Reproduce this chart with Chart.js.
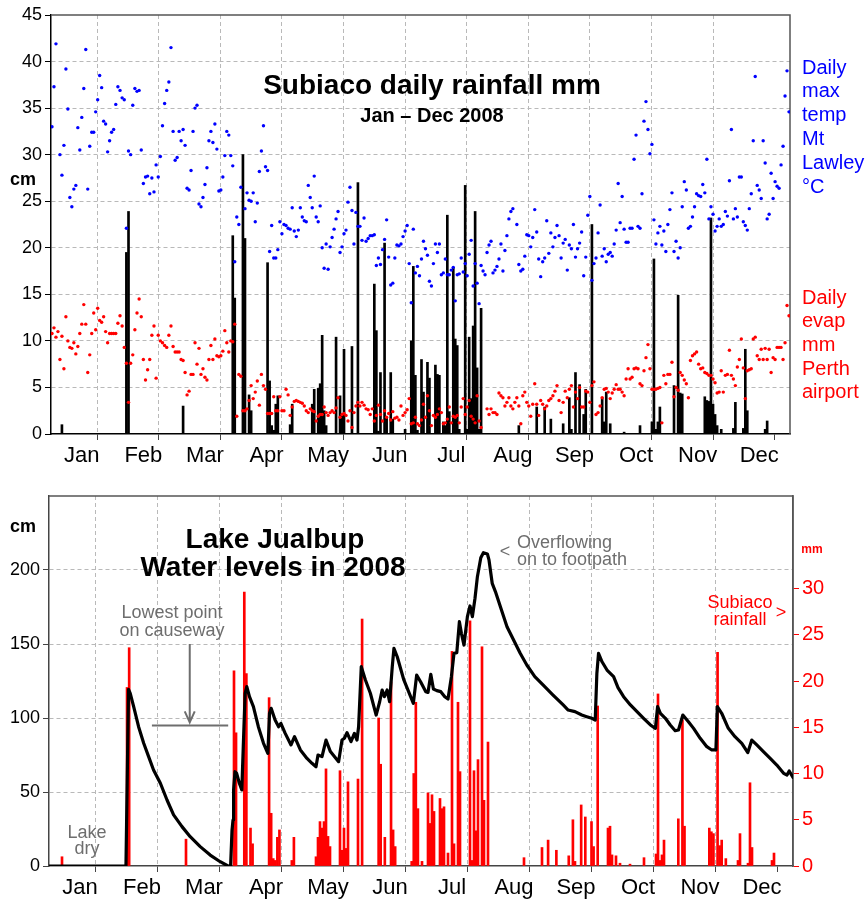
<!DOCTYPE html>
<html>
<head>
<meta charset="utf-8">
<script src="https://cdn.jsdelivr.net/npm/chart.js@4.4.1/dist/chart.umd.min.js"></script>
<style>
  html, body { margin: 0; padding: 0; background: #fff; }
  .box { position: relative; width: 866px; }
</style>
</head>
<body>
<div class="box" style="height:470px"><canvas id="rainChart"></canvas></div>
<div class="box" style="height:432px"><canvas id="lakeChart"></canvas></div>
<script>
// ---- data ----
const MONTHS = ["Jan", "Feb", "Mar", "Apr", "May", "Jun", "Jul", "Aug", "Sep", "Oct", "Nov", "Dec"];
const MONTH_DAYS = [31, 29, 31, 30, 31, 30, 31, 31, 30, 31, 30, 31];

// daily max temp Mt Lawley (°C), one list per month
const maxTemp = [
  [33.0,37.3,41.9,null,30.0,27.8,31.0,39.2,34.9,25.4,24.4,26.3,26.7,32.9,30.5,34.0,37.1,41.3,26.3,30.9,32.4,32.4,34.6,35.9,38.5,37.2,33.6,33.3,30.3,31.5,32.4],
  [32.7,35.4,37.3,36.9,36.1,35.9,22.1,30.4,30.0,35.3,37.1,36.8,36.9,30.5,26.9,27.6,27.7,25.8,27.5,26.0,28.9,27.6,29.8,33.1,35.5,36.9,37.8,41.5,32.5],
  [29.4,29.7,32.5,31.5,32.7,31.0,26.4,26.2,28.3,32.5,35.0,35.3,24.7,24.4,25.4,26.8,28.6,31.5,32.5,31.3,33.3,30.6,26.1,26.2,27.6,29.9,32.5,32.1,29.9,28.8,18.5],
  [23.3,22.5,26.5,null,24.2,25.9,25.1,25.0,25.9,22.8,24.8,28.2,30.4,33.1,28.7,28.3,19.6,22.4,18.9,18.9,19.8,22.8,21.5,22.5,22.4,22.1,22.0,24.3,21.8,21.2],
  [21.9,24.3,23.3,22.9,22.8,26.7,25.4,24.3,27.7,23.3,22.8,24.5,20.0,17.8,20.4,17.7,20.1,21.1,22.0,23.1,23.9,19.5,20.1,21.5,21.9,24.9,26.5,24.0,20.4,23.8,22.3],
  [22.3,20.8,23.2,20.7,21.0,21.3,21.3,21.4,18.1,18.9,18.2,19.8,20.9,23.0,19.0,16.0,16.2,18.9,20.3,20.2,20.4,21.2,21.8,22.4,18.3,14.1,22.0,17.3,18.0,17.0],
  [18.8,20.7,19.9,19.2,16.4,15.9,18.3,20.4,19.5,20.4,17.1,17.3,18.8,17.1,17.1,17.6,17.9,14.3,17.1,17.2,18.9,17.4,18.3,17.0,19.3,20.8,15.9,18.3,16.2,14.0,18.1],
  [17.5,17.1,19.5,20.3,20.7,17.3,17.6,18.0,18.8,20.4,17.5,19.7,21.3,23.1,23.9,24.2,null,22.5,18.2,17.5,17.7,19.1,21.4,21.3,20.1,21.1,24.1,21.7,18.8,16.9,18.5],
  [18.9,22.9,19.4,21.6,20.1,21.1,22.4,21.3,18.9,20.5,20.9,17.6,20.3,19.9,22.5,19.0,19.9,20.5,21.7,17.0,19.0,23.5,25.5,16.5,18.3,18.9,21.6,24.6,19.1,19.9],
  [18.5,19.3,19.5,19.1,20.4,21.9,26.9,22.7,25.5,22.0,20.6,20.6,22.1,22.1,29.5,32.1,22.3,22.1,25.8,33.6,35.7,32.7,30.1,31.1,23.0,20.4,21.6,22.3,20.3,21.8,19.6],
  [22.5,24.1,25.9,19.6,20.7,18.9,20.0,24.4,27.1,26.2,22.1,22.3,23.3,24.4,25.8,25.6,25.5,26.8,25.9,29.5,23.1,24.4,23.6,21.8,22.3,23.1,22.3,22.5,23.9,23.4],
  [27.2,32.7,23.1,24.2,23.3,27.6,27.6,22.8,22.4,21.9,24.2,25.8,31.5,38.4,26.7,26.2,25.3,31.5,29.1,23.1,23.6,28.0,25.3,27.1,26.6,26.4,28.9,30.9,36.3,39.0,34.6]
];

// daily evaporation Perth airport (mm), one list per month
const evap = [
  [10.8,11.4,10.4,11.0,8.0,10.5,7.0,12.6,10.0,9.3,9.2,9.8,8.6,9.4,10.8,11.8,13.9,11.8,6.6,8.5,10.8,13.0,11.2,13.5,12.2,12.0,12.6,11.0,9.8,10.8,10.8],
  [10.8,10.8,11.9,12.7,11.6,9.3,7.6,3.4,7.6,8.5,11.2,13.0,14.5,12.6,8.0,5.8,6.9,8.0,10.6,11.6,6.0,10.6,10.0,9.8,9.5,9.3,10.6,11.6,9.4],
  [8.8,8.8,8.8,8.0,7.9,6.6,4.2,4.6,6.4,6.4,9.8,7.5,9.2,6.4,7.0,6.1,5.8,8.0,9.5,8.0,10.2,8.4,8.3,8.4,8.9,11.1,9.8,8.8,10.0,9.9,11.8],
  [1.9,6.4,6.2,2.5,2.5,2.7,3.6,5.2,3.8,4.5,5.7,3.1,6.4,5.2,4.8,2.2,2.2,2.2,4.0,2.5,2.5,4.0,2.5,2.5,4.8,4.2,2.0,2.9,3.5,3.6],
  [3.5,3.4,3.3,3.0,2.5,2.3,2.7,2.5,2.4,1.4,1.9,2.1,2.1,2.9,2.3,2.0,2.3,2.5,2.3,2.8,3.9,1.8,2.1,2.2,2.0,1.4,2.5,0.7,2.3,3.0,3.4],
  [3.0,3.4,3.1,2.7,2.6,2.1,2.7,1.4,2.0,3.1,2.1,1.4,2.5,1.8,2.2,1.5,2.4,1.7,1.8,1.5,3.0,2.0,2.3,2.6,3.8,1.1,1.2,1.8,1.1,0.9],
  [1.5,3.2,1.8,4.1,2.5,0.9,2.0,1.8,2.1,2.7,2.3,1.1,1.2,1.6,2.9,1.2,1.9,1.8,2.0,1.2,2.9,3.8,2.1,2.9,3.6,1.9,1.6,1.2,4.1,1.4,0.7],
  [null,null,2.7,2.1,2.7,2.3,2.3,2.1,4.4,4.1,3.9,3.0,3.4,3.9,3.0,2.7,3.4,3.9,3.0,1.1,4.1,4.5,3.4,3.0,1.9,3.2,5.4,3.2,2.0,3.6,3.2],
  [2.7,3.0,3.6,3.8,4.1,4.6,5.2,3.6,2.3,3.4,4.6,3.9,4.8,5.2,2.9,4.5,3.8,5.0,2.9,2.9,4.6,4.5,3.4,5.2,5.6,2.1,2.3,3.0,3.9,4.8],
  [4.9,4.5,3.8,4.4,4.8,5.3,4.8,4.8,4.5,4.1,5.9,7.0,5.9,6.1,7.0,7.1,7.0,5.4,5.2,6.8,8.2,9.6,7.0,4.8,4.8,4.8,4.9,5.0,1.2,6.3,5.4],
  [6.4,6.4,7.7,4.0,5.0,4.7,6.6,6.3,5.8,5.4,3.9,7.9,8.4,8.6,8.8,7.5,7.0,7.1,6.6,6.5,6.3,6.3,5.9,5.5,4.4,4.5,6.8,4.5,6.3,6.4],
  [9.0,6.3,5.9,5.2,7.2,8.0,10.2,7.1,3.8,6.8,6.9,7.0,10.2,10.4,8.4,8.0,9.1,8.0,9.2,8.0,9.1,6.6,8.2,8.0,9.3,9.3,9.3,8.0,9.8,13.8,12.7]
];

// Subiaco rainfall as drawn in the top chart: [month, day, mm]
const rainTop = [
  [1,6,1.0],[2,7,19.5],[2,8,23.9],[3,5,3.0],[3,30,21.3],[3,31,14.6],
  [4,4,30.0],[4,5,21.0],[4,7,4.2],[4,8,2.5],[4,16,18.4],[4,17,5.7],[4,18,0.9],[4,19,0.4],[4,20,3.2],[4,21,4.1],[4,27,1.0],[4,28,3.2],
  [5,8,3.2],[5,9,4.8],[5,11,4.9],[5,12,5.4],[5,13,10.6],[5,14,2.5],[5,15,0.9],[5,20,10.4],[5,22,4.1],[5,23,1.9],[5,24,9.1],[5,28,9.4],[5,31,27.0],
  [6,8,16.1],[6,9,11.1],[6,10,0.3],[6,11,6.6],[6,13,20.5],[6,14,1.7],[6,16,6.6],[6,17,1.6],[6,23,0.5],[6,26,10.0],[6,27,18.0],[6,28,6.3],[6,29,0.4],
  [7,1,8.0],[7,2,4.5],[7,4,7.7],[7,5,6.0],[7,8,7.4],[7,9,6.4],[7,10,6.3],[7,12,1.3],[7,13,0.9],[7,14,23.5],[7,15,2.4],[7,17,17.9],[7,18,10.2],[7,19,9.5],[7,20,0.5],
  [7,23,26.7],[7,24,0.5],[7,25,10.4],[7,26,3.8],[7,27,11.6],[7,28,23.9],[7,29,7.1],[7,30,0.5],[7,31,13.5],
  [8,19,0.9],[8,28,2.9],
  [9,1,2.9],[9,4,1.6],[9,10,1.1],[9,13,3.9],[9,14,0.5],[9,16,6.6],[9,18,5.3],[9,20,2.1],[9,21,4.8],[9,24,22.5],[9,29,3.9],[9,30,1.3],
  [10,1,4.5],[10,3,1.1],[10,10,0.2],[10,18,0.9],[10,24,1.3],[10,25,18.8],[10,26,0.5],[10,27,1.3],[10,28,2.9],
  [11,4,5.2],[11,6,14.9],[11,7,4.4],[11,8,4.3],[11,19,4.0],[11,20,3.6],[11,21,3.5],[11,22,23.2],[11,23,3.2],[11,24,2.1],[11,25,0.9],[11,27,0.5],
  [12,3,0.6],[12,4,3.4],[12,8,0.6],[12,9,9.1],[12,10,2.5],[12,19,0.5],[12,20,1.4]
];

// Subiaco rainfall as drawn in the lake chart: [month, day, mm]
const rainLake = [
  [1,7,1.0],[2,8,19.3],[2,9,23.6],[3,7,2.9],[3,31,21.1],
  [4,1,14.4],[4,5,29.6],[4,6,20.8],[4,8,4.1],[4,9,2.4],[4,17,18.2],[4,18,5.7],[4,19,0.8],[4,20,0.6],[4,21,3.1],[4,22,3.9],[4,28,0.6],[4,29,3.1],
  [5,10,1.0],[5,11,3.1],[5,12,4.8],[5,13,4.1],[5,14,4.8],[5,15,10.5],[5,16,3.2],[5,17,2.1],[5,22,10.3],[5,23,1.7],[5,24,4.1],[5,25,1.9],[5,26,9.1],[5,31,9.4],
  [6,2,26.7],[6,10,16.0],[6,11,11.0],[6,13,3.1],[6,16,19.9],[6,17,3.9],[6,18,2.1],[6,26,0.5],[6,27,10.0],[6,28,17.7],[6,29,6.2],
  [7,1,0.5],[7,4,7.9],[7,5,4.6],[7,6,7.7],[7,7,5.9],[7,10,7.3],[7,11,6.2],[7,12,6.4],[7,14,1.4],[7,16,23.2],[7,17,2.4],[7,19,17.7],[7,20,10.2],
  [7,25,26.5],[7,26,0.6],[7,27,10.3],[7,28,3.8],[7,29,11.5],[7,31,23.7],
  [8,1,7.1],[8,3,13.4],[8,21,0.9],[8,30,2.0],
  [9,2,2.8],[9,6,1.7],[9,12,1.1],[9,14,5.0],[9,15,0.5],[9,18,6.6],[9,20,5.3],[9,23,4.8],[9,24,2.1],[9,26,17.3],
  [10,1,4.1],[10,2,4.3],[10,3,1.2],[10,5,1.1],[10,7,0.3],[10,12,0.2],[10,19,0.9],[10,25,1.3],[10,26,18.6],[10,27,0.6],[10,28,1.2],[10,29,2.8],
  [11,5,5.1],[11,7,15.8],[11,8,4.3],[11,20,4.1],[11,21,3.7],[11,22,3.5],[11,24,23.1],[11,25,2.2],[11,26,2.8],[11,28,0.8],
  [12,4,0.6],[12,5,3.5],[12,9,0.3],[12,10,9.0],[12,11,2.0],[12,21,0.6],[12,22,1.4]
];

// Lake Jualbup water level: day of year (0 = start of 1 Jan) and level in cm
const lakeDay = [0,38,38.6,39.2,40,41.6,43.9,46.3,48.6,50.9,54.1,57.2,60.3,64.5,68.6,73.6,78.6,83.6,87.5,88.8,89.5,90,90.3,91,91.8,93.1,94.3,95,95.9,96.7,98,99.9,102.3,104.8,106.9,107.7,108.5,110.4,112.1,113.2,115.3,118.1,119.8,122.7,126,128.5,130.5,131.5,133.5,135.5,137.7,141.8,143.5,144.7,146,148,149.7,151,151.8,153.1,155.1,157.5,160.3,162,163.2,164.3,165.6,166.8,168.1,168.9,170.5,173.7,178.3,179.9,181.8,184.4,185.5,186.9,188.2,189.9,191.9,193.9,195.5,197.2,198.5,199.9,201.2,202.2,203.5,205.2,206.5,207.7,209,210.2,211.9,213.2,215.2,216,217.6,219.2,221.7,225,228.3,231.6,234.9,238.9,243,247.9,252.8,255.2,258.5,261.8,264.2,266.7,268.3,269.1,269.9,271.6,274,277.3,279.5,282.3,285.7,289,292.3,295.7,298.2,299.3,300.7,303.2,305.6,308,309.6,311.7,314.4,316.9,320.1,323.3,325.7,327.7,328.4,330.5,333.7,337,340.4,343.4,345.4,347.9,351.2,354.6,357.9,361.3,363,364.1,366];
const lakeCm = [0,0,60,119.4,116.7,107.7,94.1,82.9,73.9,64.9,55.9,44.6,34.5,26.6,19.8,13.1,7.4,2.9,0,0,24,31,51.4,63.7,62.6,55.9,51.4,80.6,116.7,121.2,114.4,107.7,94.1,82.9,76.1,103.2,106.5,98.6,94.1,96.4,89.6,81.8,87.4,78.4,72.7,69.4,67.1,75,73.9,85.1,77.3,70.5,85.1,86.3,90.1,84,89.6,85.1,94.1,134.7,125.7,116.7,102,111,118.9,114.4,118.9,111,134.7,147.1,141.4,125.7,109.9,129,124.5,117.8,117.3,129.5,119.6,118.5,117.8,114.4,112.8,127.9,143.7,144.1,165.1,157.2,149.3,168.5,175.7,168.5,180.9,195.5,208.3,211.7,210.8,206.8,191,185.4,175.2,161.7,152.7,143.7,135.8,127.9,122.3,115.5,108.8,105.4,104.3,102,100.9,99.8,98.6,130.2,143.7,138,132.4,127.9,120.5,114.4,108.8,104.3,99.8,95.3,93,107.7,103.2,99.8,95.3,91.4,91.9,102,97.5,93,86.3,80.6,78.4,78.4,107.7,103.2,93,87.4,82.9,76.6,85.1,81.8,77.3,72.7,68.2,62.6,61.5,64.2,59.9];

const CAUSEWAY_CM = 95; // lowest point on causeway

// ---- helpers ----
const GRID = "#b9b9b9";
const GRAY_TEXT = "#6e6e6e";
Chart.defaults.font.family = 'Arial, "Liberation Sans", sans-serif';

const monthStart = [];
MONTH_DAYS.reduce((acc, d, i) => { monthStart[i] = acc; return acc + d; }, 0);

// every month gets the same width on the axis, so x is "months since 1 Jan"
function dayToPos(doy) {
  let m = 0;
  while (m < 11 && doy >= monthStart[m + 1]) m++;
  return m + (doy - monthStart[m]) / MONTH_DAYS[m];
}

function dailyPoints(byMonth) {
  const pts = [];
  byMonth.forEach((vals, m) => {
    vals.forEach((v, i) => {
      if (v !== null) pts.push({ x: m + (i + 0.5) / MONTH_DAYS[m], y: v });
    });
  });
  return pts;
}

function rainPoints(list) {
  return list.map(([m, d, mm]) => ({ x: m - 1 + (d - 0.5) / MONTH_DAYS[m - 1], y: mm }));
}

const lakePoints = lakeDay.map((d, i) => ({ x: dayToPos(d), y: lakeCm[i] }));

function monthAxis(borderColor) {
  return {
    type: "linear",
    min: 0,
    max: 12,
    offset: false,
    afterBuildTicks: (s) => {
      s.ticks = [];
      for (let v = 0; v <= 12; v += 0.5) s.ticks.push({ value: v });
    },
    afterFit: (s) => { s.height = 36; },
    ticks: {
      autoSkip: false,
      maxRotation: 0,
      padding: 3,
      color: "#000",
      font: { size: 22 },
      callback: (v) => (v % 1 ? MONTHS[Math.floor(v)] : ""),
    },
    grid: {
      color: (c) => (c.tick && c.tick.value % 1 === 0 && c.tick.value > 0 && c.tick.value < 12 ? GRID : "transparent"),
      tickColor: (c) => (c.tick && c.tick.value % 1 === 0 ? "#444" : "transparent"),
      tickLength: 6,
      tickBorderDash: [],
    },
    border: { color: borderColor, width: 1.5, dash: [4, 3] },
  };
}

function drawFrame(chart, color) {
  const { ctx, chartArea: a } = chart;
  ctx.save();
  ctx.strokeStyle = color;
  ctx.lineWidth = 1.5;
  ctx.beginPath();
  ctx.moveTo(a.left, a.top);
  ctx.lineTo(a.right, a.top);
  ctx.lineTo(a.right, a.bottom);
  ctx.stroke();
  ctx.restore();
}

function text(ctx, str, x, y, font, color, align) {
  ctx.font = font;
  ctx.fillStyle = color;
  ctx.textAlign = align || "center";
  ctx.textBaseline = "middle";
  ctx.fillText(str, x, y);
}

// ---- top chart: rainfall, max temp, evaporation ----
const rainPlugin = {
  id: "rainPlugin",
  beforeDatasetsDraw(chart) { drawFrame(chart, "#555"); },
  afterDraw(chart) {
    const ctx = chart.ctx;
    ctx.save();
    text(ctx, "Subiaco daily rainfall mm", 432, 86, "bold 28px Arial", "#000");
    text(ctx, "Jan \u2013 Dec 2008", 432, 116, "bold 20px Arial", "#000");
    text(ctx, "cm", 23, 180, "bold 18px Arial", "#000");
    ["Daily", "max", "temp", "Mt", "Lawley", "\u00B0C"].forEach((s, i) =>
      text(ctx, s, 802, 68 + i * 23.8, "20px Arial", "#0000ff", "left"));
    ["Daily", "evap", "mm", "Perth", "airport"].forEach((s, i) =>
      text(ctx, s, 802, 298 + i * 23.7, "20px Arial", "#ff0000", "left"));
    ctx.restore();
  },
};

new Chart(document.getElementById("rainChart"), {
  type: "scatter",
  data: {
    datasets: [
      {
        label: "Daily max temp Mt Lawley",
        data: dailyPoints(maxTemp),
        backgroundColor: "#0000ff",
        pointRadius: 1.7,
        pointBorderWidth: 0,
        order: 1,
      },
      {
        label: "Daily evap Perth airport",
        data: dailyPoints(evap),
        backgroundColor: "#ff0000",
        pointRadius: 1.7,
        pointBorderWidth: 0,
        order: 2,
      },
      {
        type: "bar",
        label: "Subiaco rainfall",
        data: rainPoints(rainTop),
        backgroundColor: "#000",
        barThickness: 2,
        order: 3,
      },
    ],
  },
  options: {
    responsive: true,
    maintainAspectRatio: false,
    animation: false,
    events: [],
    layout: { autoPadding: false, padding: { top: 15, right: 76, left: 0, bottom: 0 } },
    plugins: { legend: { display: false }, tooltip: { enabled: false } },
    scales: {
      x: monthAxis("#000"),
      y: {
        min: 0,
        max: 45,
        afterFit: (s) => { s.width = 51; },
        ticks: { stepSize: 5, color: "#000", font: { size: 18 }, padding: 3 },
        grid: {
          color: (c) => (c.tick && c.tick.value > 0 && c.tick.value < 45 ? GRID : "transparent"),
          tickColor: "#000",
          tickLength: 6,
          tickBorderDash: [],
        },
        border: { color: "#000", width: 1.5, dash: [4, 3] },
      },
    },
  },
  plugins: [rainPlugin],
});

// ---- bottom chart: Lake Jualbup water level ----
const lakePlugin = {
  id: "lakePlugin",
  beforeDatasetsDraw(chart) { drawFrame(chart, "#555"); },
  afterDraw(chart) {
    const ctx = chart.ctx;
    const xs = chart.scales.x;
    const ys = chart.scales.y;
    ctx.save();
    text(ctx, "cm", 23, 57, "bold 18px Arial", "#000");
    text(ctx, "Lake Jualbup", 275, 70, "bold 28px Arial", "#000");
    text(ctx, "Water levels in 2008", 273, 98, "bold 28px Arial", "#000");

    text(ctx, "Lowest point", 172, 143, "18px Arial", GRAY_TEXT);
    text(ctx, "on causeway", 172, 161, "18px Arial", GRAY_TEXT);
    text(ctx, "Lake", 87, 363, "18px Arial", GRAY_TEXT);
    text(ctx, "dry", 87, 379, "18px Arial", GRAY_TEXT);
    text(ctx, "<", 505, 82, "18px Arial", GRAY_TEXT);
    text(ctx, "Overflowing", 517, 73, "18px Arial", GRAY_TEXT, "left");
    text(ctx, "on to footpath", 517, 90, "18px Arial", GRAY_TEXT, "left");

    text(ctx, "Subiaco", 740, 133, "18px Arial", "#ff0000");
    text(ctx, "rainfall", 740, 150, "18px Arial", "#ff0000");
    text(ctx, ">", 781, 143, "18px Arial", "#ff0000");
    text(ctx, "mm", 812, 80, "bold 12px Arial", "#ff0000");

    // causeway level line and arrow
    const yc = ys.getPixelForValue(CAUSEWAY_CM);
    const xa = xs.getPixelForValue(2.27);
    ctx.strokeStyle = GRAY_TEXT;
    ctx.lineWidth = 2;
    ctx.beginPath();
    ctx.moveTo(xs.getPixelForValue(1.66), yc);
    ctx.lineTo(xs.getPixelForValue(2.89), yc);
    ctx.moveTo(xa, ys.getPixelForValue(150));
    ctx.lineTo(xa, yc - 3);
    ctx.moveTo(xa - 5, yc - 14);
    ctx.lineTo(xa, yc - 3);
    ctx.lineTo(xa + 5, yc - 14);
    ctx.stroke();
    ctx.restore();
  },
};

new Chart(document.getElementById("lakeChart"), {
  type: "scatter",
  data: {
    datasets: [
      {
        type: "line",
        label: "Water level",
        data: lakePoints,
        yAxisID: "y",
        borderColor: "#000",
        borderWidth: 3.2,
        pointRadius: 0,
        tension: 0,
        borderJoinStyle: "round",
        borderCapStyle: "round",
        order: 1,
      },
      {
        type: "bar",
        label: "Subiaco rainfall",
        data: rainPoints(rainLake),
        yAxisID: "y2",
        backgroundColor: "#ff0000",
        barThickness: 2,
        order: 2,
      },
    ],
  },
  options: {
    responsive: true,
    maintainAspectRatio: false,
    animation: false,
    events: [],
    layout: { autoPadding: false, padding: { top: 26, right: 0, left: 0, bottom: 0 } },
    plugins: { legend: { display: false }, tooltip: { enabled: false } },
    scales: {
      x: monthAxis("#444"),
      y: {
        position: "left",
        min: 0,
        max: 250,
        afterFit: (s) => { s.width = 49; },
        ticks: {
          stepSize: 50,
          color: "#000",
          font: { size: 18 },
          padding: 3,
          callback: (v) => (v > 200 ? "" : v),
        },
        grid: {
          color: (c) => (c.tick && c.tick.value > 0 && c.tick.value < 250 ? GRID : "transparent"),
          tickColor: (c) => (c.tick && c.tick.value > 200 ? "transparent" : "#444"),
          tickLength: 6,
          tickBorderDash: [],
        },
        border: { color: "#444", width: 1.5, dash: [4, 3] },
      },
      y2: {
        position: "right",
        min: 0,
        max: 40,
        afterFit: (s) => { s.width = 73; },
        ticks: {
          stepSize: 5,
          color: "#ff0000",
          font: { size: 20 },
          padding: 3,
          callback: (v) => (v > 30 ? "" : v),
        },
        grid: {
          drawOnChartArea: false,
          tickColor: (c) => (c.tick && c.tick.value > 30 ? "transparent" : "#ff0000"),
          tickLength: 6,
        },
        border: { color: "#555", width: 1.5 },
      },
    },
  },
  plugins: [lakePlugin],
});
</script>
</body>
</html>
